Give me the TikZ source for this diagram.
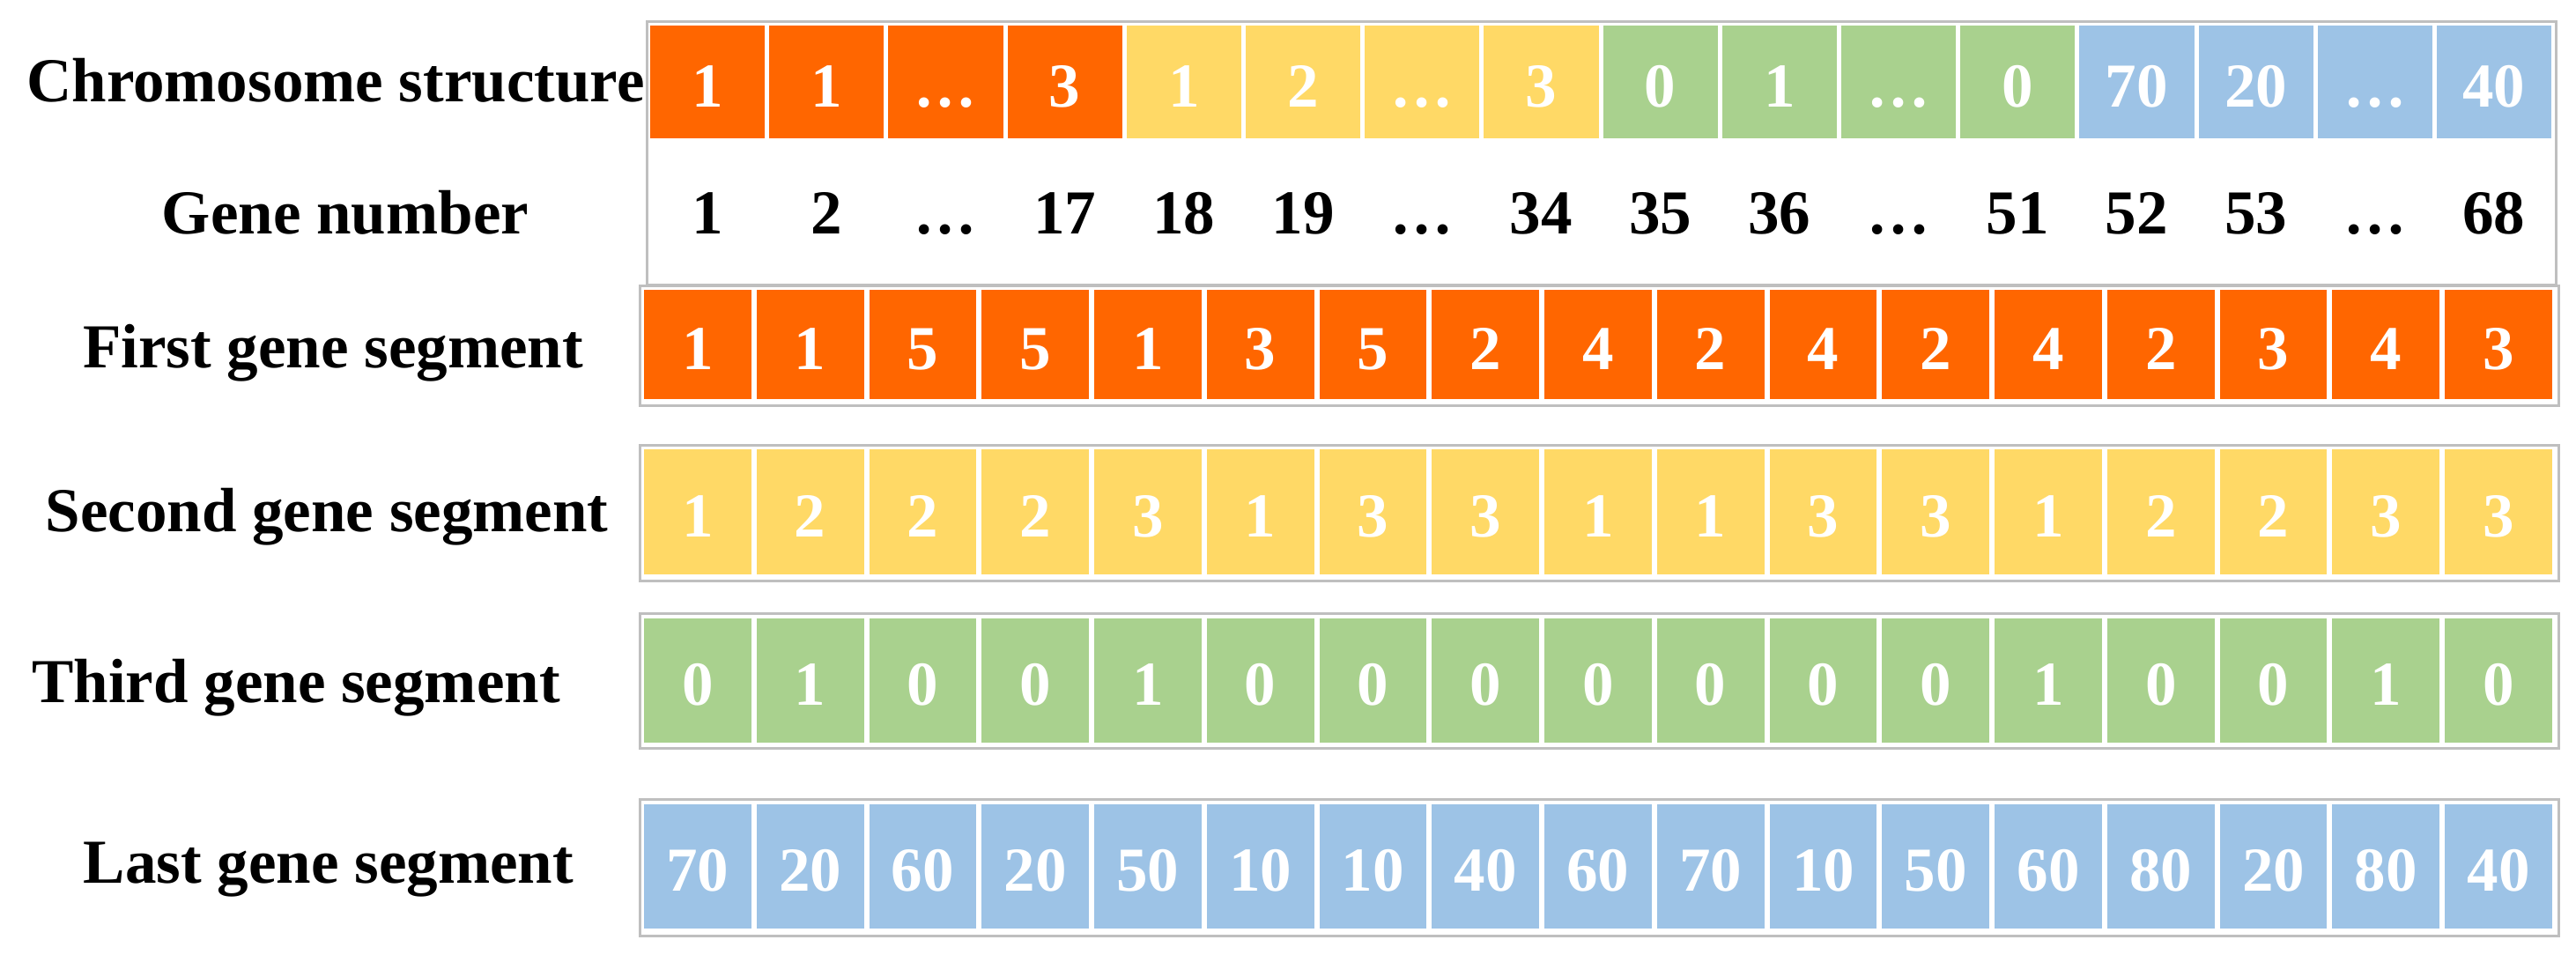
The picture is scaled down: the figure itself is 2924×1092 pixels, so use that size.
\documentclass[tikz,border=0pt]{standalone}
\usepackage{fontspec}
\setmainfont{Liberation Serif}
\definecolor{gorange}{HTML}{FF6600}
\definecolor{gyellow}{HTML}{FFD966}
\definecolor{ggreen}{HTML}{A9D18E}
\definecolor{gblue}{HTML}{9DC3E6}
\definecolor{gborder}{HTML}{BFBFBF}
\begin{document}
\begin{tikzpicture}[x=0.75pt,y=-0.75pt,
  txt/.style={font=\fontsize{53.25}{60}\selectfont\bfseries, inner sep=0pt},
  digit/.style={txt, text height=42pt, text depth=0pt},
  topcell/.style={digit, text=white, minimum width=97.64pt, minimum height=96pt},
  lowcell/.style={digit, text=white, minimum width=91.32pt, minimum height=#1},
  framebox/.style={draw=gborder, line width=2pt, inner sep=0pt, anchor=north west, minimum width=#1},
]
\path[fill=white,use as bounding box] (0,0) rectangle (2924,1092);

% frames
\node[framebox=1625.25pt, minimum height=224.25pt] (topframe) at (733,23) {};
\node[framebox=1633.5pt, minimum height=102pt] (frame1) at (725,323) {};
\node[framebox=1633.5pt, minimum height=115.5pt] (frame2) at (725,504) {};
\node[framebox=1633.5pt, minimum height=114.75pt] (frame3) at (725,695) {};
\node[framebox=1633.5pt, minimum height=116.25pt] (frame4) at (725,906) {};

% labels
\node[txt, anchor=base] (lchrom) at (381,115) {Chromosome structure};
\node[txt, anchor=base] (lgene) at (392,265) {Gene number};
\node[txt, anchor=base] (lfirst) at (378,417) {First gene segment};
\node[txt, anchor=base] (lsecond) at (371,603) {Second gene segment};
\node[txt, anchor=base] (lthird) at (336,797) {Third gene segment};
\node[txt, anchor=base] (llast) at (373,1002) {Last gene segment};

% chromosome structure row
\foreach \v [count=\i from 0] in {1,1,…,3}
  \node[topcell, fill=gorange] (t\i) at ({803.1+135.19*\i},93) {\v};
\foreach \v [count=\i from 4] in {1,2,…,3}
  \node[topcell, fill=gyellow] (t\i) at ({803.1+135.19*\i},93) {\v};
\foreach \v [count=\i from 8] in {0,1,…,0}
  \node[topcell, fill=ggreen] (t\i) at ({803.1+135.19*\i},93) {\v};
\foreach \v [count=\i from 12] in {70,20,…,40}
  \node[topcell, fill=gblue] (t\i) at ({803.1+135.19*\i},93) {\v};

% gene numbers
\foreach \v [count=\i from 0] in {1,2,…,17,18,19,…,34,35,36,…,51,52,53,…,68}
  \node[digit] (n\i) at ({803.1+135.19*\i},237) {\v};

% segments
\foreach \v [count=\i from 0] in {1,1,5,5,1,3,5,2,4,2,4,2,4,2,3,4,3}
  \node[lowcell=93pt, fill=gorange] (a\i) at ({791.88+127.76*\i},391) {\v};
\foreach \v [count=\i from 0] in {1,2,2,2,3,1,3,3,1,1,3,3,1,2,2,3,3}
  \node[lowcell=106.5pt, fill=gyellow] (b\i) at ({791.88+127.76*\i},581) {\v};
\foreach \v [count=\i from 0] in {0,1,0,0,1,0,0,0,0,0,0,0,1,0,0,1,0}
  \node[lowcell=105.75pt, fill=ggreen] (c\i) at ({791.88+127.76*\i},772.5) {\v};
\foreach \v [count=\i from 0] in {70,20,60,20,50,10,10,40,60,70,10,50,60,80,20,80,40}
  \node[lowcell=105.75pt, fill=gblue] (d\i) at ({791.88+127.76*\i},983.5) {\v};
\end{tikzpicture}
\end{document}
